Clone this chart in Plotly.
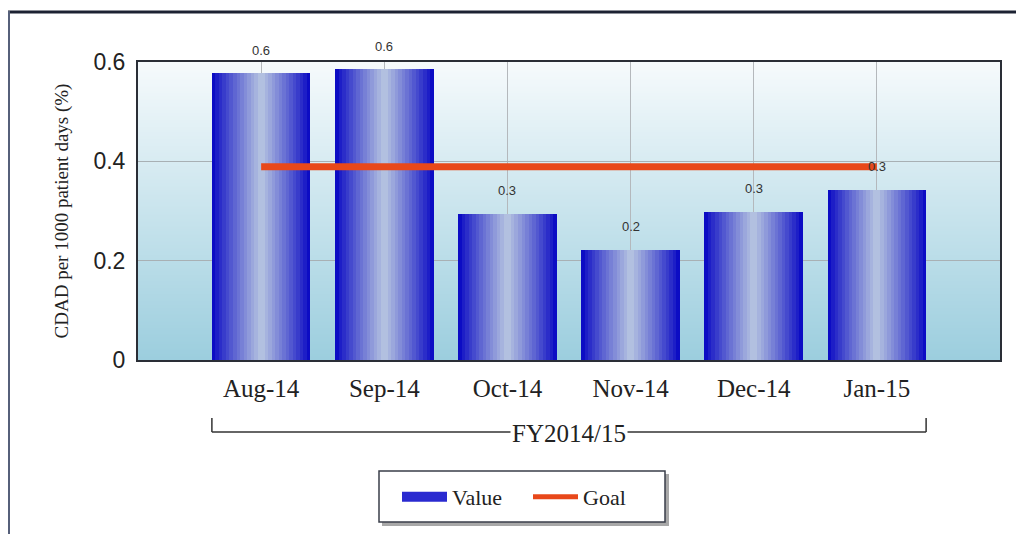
import base64, struct, zlib
import plotly.graph_objects as go

# ---- data ----
months = ["Aug-14", "Sep-14", "Oct-14", "Nov-14", "Dec-14", "Jan-15"]
values = [0.577, 0.585, 0.294, 0.222, 0.298, 0.343]
goal = [0.389, 0.389, 0.389, 0.389, 0.389, 0.389]
group_label = "FY2014/15"
y_title = "CDAD per 1000 patient days (%)"
y_ticks = [0, 0.2, 0.4, 0.6]

xpos = list(range(len(months)))

# ---- helpers ----
def png_vgradient(top, bottom, h=256):
    rows = b""
    for i in range(h):
        t = i / (h - 1)
        c = [round(top[k] + (bottom[k] - top[k]) * t) for k in range(3)]
        rows += b"\x00" + bytes(c)
    def chunk(tag, data):
        return struct.pack(">I", len(data)) + tag + data + struct.pack(">I", zlib.crc32(tag + data) & 0xffffffff)
    png = b"\x89PNG\r\n\x1a\n" + chunk(b"IHDR", struct.pack(">IIBBBBB", 1, h, 8, 2, 0, 0, 0))
    png += chunk(b"IDAT", zlib.compress(rows)) + chunk(b"IEND", b"")
    return "data:image/png;base64," + base64.b64encode(png).decode()

def lerp(c1, c2, t):
    return "rgb(%d,%d,%d)" % tuple(round(c1[k] + (c2[k] - c1[k]) * t) for k in range(3))

SERIF = "Liberation Serif, Times New Roman, serif"
SANS = "Liberation Sans, Arial, sans-serif"

fig = go.Figure()

# bars with horizontal gradient (overlaid layers, widest = darkest)
n_layers = 14
edge = (12, 12, 196)
center = (178, 192, 224)
for i in range(n_layers):
    t = i / (n_layers - 1)
    w = 0.8 * (1 - i / n_layers)
    fig.add_trace(go.Bar(x=xpos, y=values, width=w, name="Value", showlegend=False,
                         hoverinfo="skip" if i else None,
                         marker=dict(color=lerp(edge, center, t ** 0.9), line=dict(width=0))))

fig.add_trace(go.Scatter(x=xpos, y=goal, mode="lines", name="Goal", showlegend=False,
                         line=dict(color="#e8481a", width=7)))

# legend entries
fig.add_trace(go.Scatter(x=[None], y=[None], mode="lines", name="Value",
                         line=dict(color="#2a2ad0", width=16)))
fig.add_trace(go.Scatter(x=[None], y=[None], mode="lines", name="Goal",
                         line=dict(color="#e8481a", width=5)))

# geometry (screen pixels; page body has an 8px margin)
OFF = 8
W, H = 1016, 526
L, T = 130, 54
pw, ph = 862, 298
R = W - L - pw
B = H - T - ph
def px(x): return (x - OFF - L) / pw
def py(y): return (OFF + T + ph - y) / ph

shapes = []
# bracket for group label
for (x0, x1, y0, y1) in [(-0.4, 5.4, 432, 432), (-0.4, -0.4, 432, 418), (5.4, 5.4, 432, 418)]:
    shapes.append(dict(type="line", xref="x", yref="paper", x0=x0, x1=x1, y0=py(y0), y1=py(y1),
                       line=dict(color="#333333", width=1.5)))
# outer frame
shapes.append(dict(type="line", xref="paper", yref="paper", x0=px(7), x1=px(1030), y0=py(12), y1=py(12),
                   line=dict(color="#1c2232", width=3)))
shapes.append(dict(type="line", xref="paper", yref="paper", x0=px(9), x1=px(9), y0=py(11), y1=py(540),
                   line=dict(color="#56607a", width=2)))
# legend box with shadow
shapes.append(dict(type="rect", xref="paper", yref="paper", x0=px(382), x1=px(669), y0=py(474), y1=py(526),
                   line=dict(width=0), fillcolor="rgba(110,110,110,0.6)"))
shapes.append(dict(type="rect", xref="paper", yref="paper", x0=px(379), x1=px(665), y0=py(471), y1=py(522),
                   line=dict(color="#3a3e4a", width=1.5), fillcolor="white"))

annotations = [dict(text=group_label, xref="x", yref="paper", x=2.5, y=py(433), showarrow=False,
                    yanchor="middle", xanchor="center", bgcolor="white", borderpad=1,
                    font=dict(family=SERIF, size=25, color="#222222"))]
for xi, v in zip(xpos, values):
    annotations.append(dict(text=f"{v:.1f}", x=xi, y=v, xref="x", yref="y", showarrow=False,
                            yanchor="middle", yshift=23,
                            font=dict(family=SANS, size=13, color="#333333")))

fig.update_layout(
    width=W, height=H,
    margin=dict(l=L, r=R, t=T, b=B),
    paper_bgcolor="white",
    plot_bgcolor="#cfe7ef",
    barmode="overlay",
    bargap=0,
    shapes=shapes,
    images=[dict(source=png_vgradient((246, 250, 252), (156, 206, 222)), xref="paper", yref="paper",
                 x=0, y=1, sizex=1, sizey=1, sizing="stretch", layer="below", xanchor="left", yanchor="top")],
    annotations=annotations,
    legend=dict(orientation="h", xref="container", yref="container",
                x=(397 - OFF) / W, y=1 - (476 - OFF) / H,
                xanchor="left", yanchor="top", bgcolor="rgba(0,0,0,0)", borderwidth=0,
                font=dict(family=SERIF, size=22, color="#222222"),
                itemwidth=45, entrywidthmode="pixels", entrywidth=71),
    font=dict(family=SERIF, color="#222222"),
)

fig.update_xaxes(range=[-1, 6], tickvals=xpos, ticktext=months, showgrid=True, gridcolor="#b4b8bc",
                 gridwidth=1, showline=True, linecolor="#2a2e36", linewidth=2, mirror=True,
                 ticks="", ticklabelstandoff=5, zeroline=False,
                 tickfont=dict(family=SERIF, size=25, color="#222222"))
fig.update_yaxes(range=[0, 0.6], tickvals=y_ticks, showgrid=True, gridcolor="#a8b0b4",
                 showline=True, linecolor="#2a2e36", linewidth=2, mirror=True, zeroline=False,
                 ticks="", ticklabelstandoff=6,
                 tickfont=dict(family=SANS, size=23, color="#222222"),
                 title=dict(text=y_title, standoff=20,
                            font=dict(family=SERIF, size=19, color="#222222")))

fig.write_html("out.html")
